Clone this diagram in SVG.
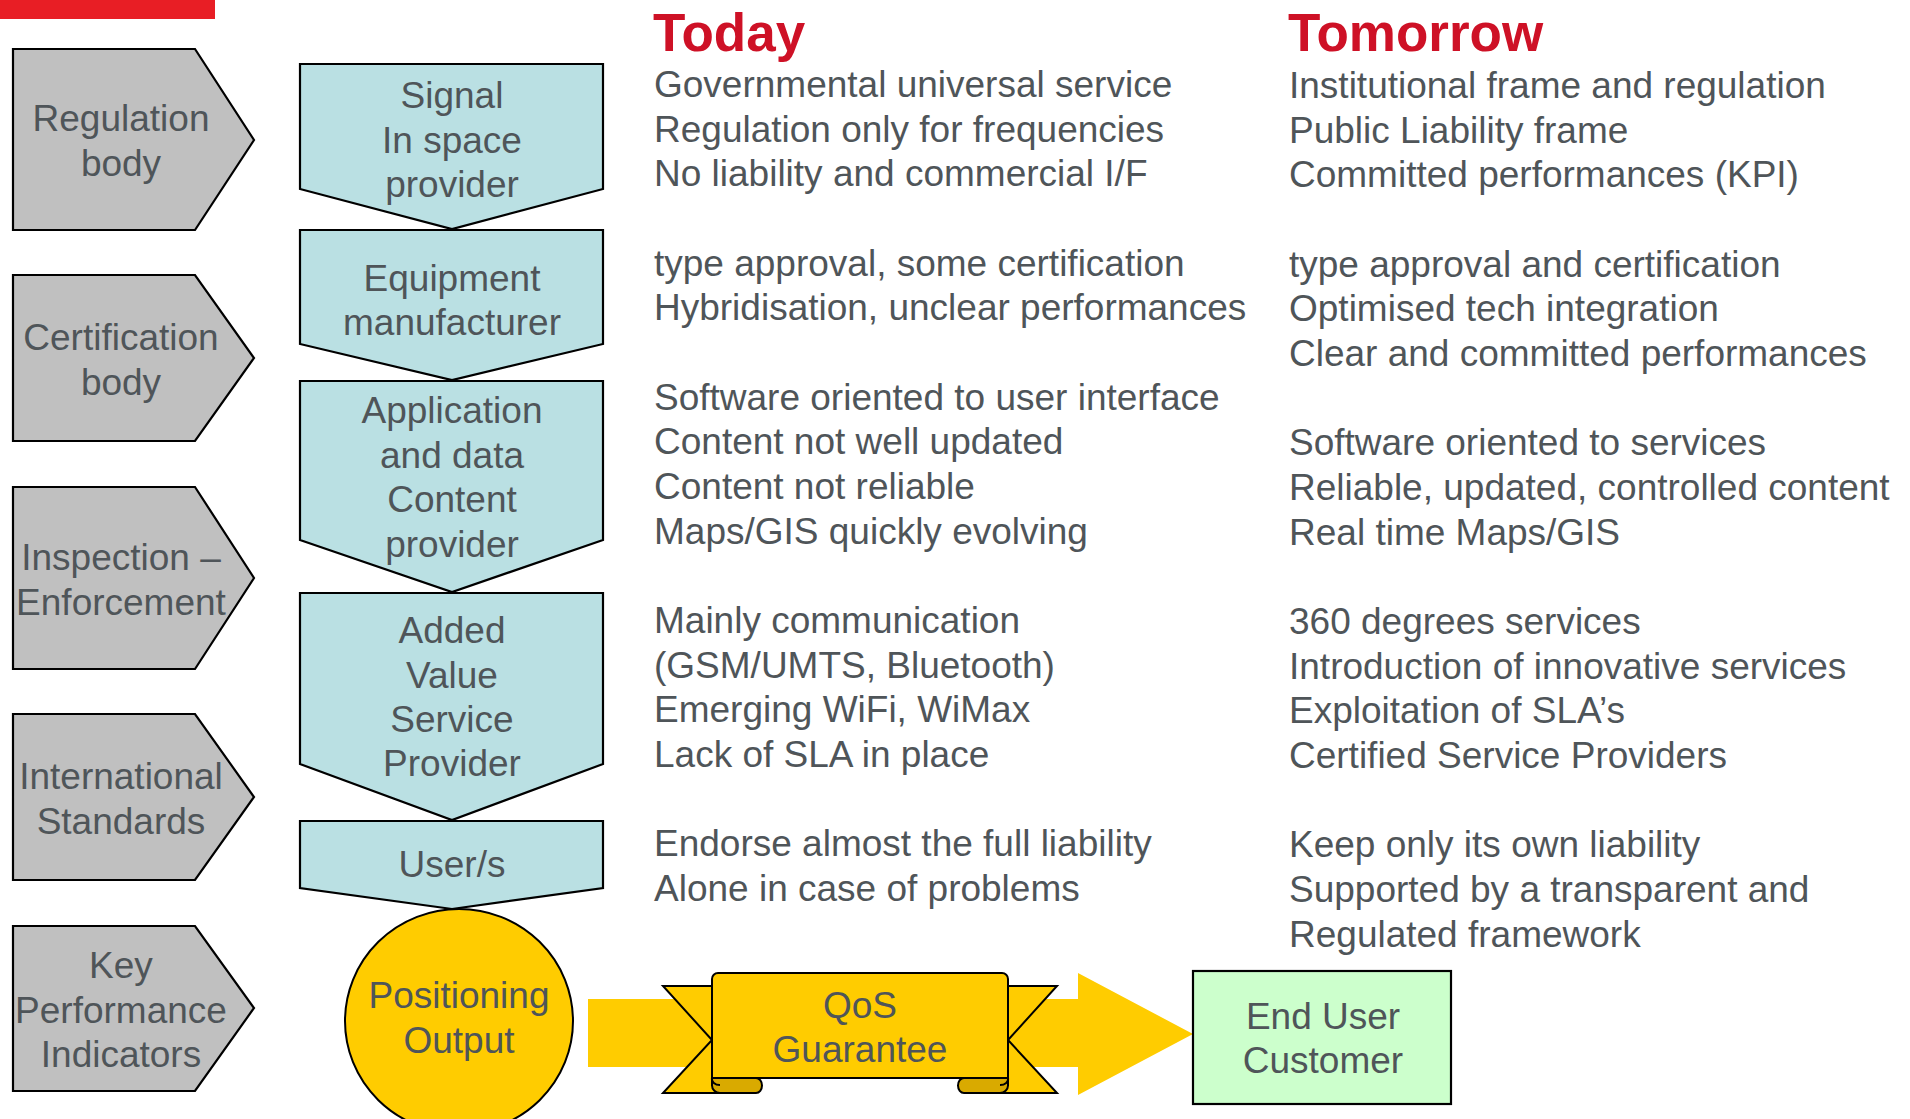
<svg xmlns="http://www.w3.org/2000/svg" width="1910" height="1119" viewBox="0 0 1910 1119">
<style>
text{font-family:"Liberation Sans",Arial,Helvetica,sans-serif;font-size:37px;fill:#4F5559}
.c{text-anchor:middle}
.h{font-weight:bold;font-size:53px;fill:#CE1126}
.g{fill:#C0C0C0;stroke:#000;stroke-width:2.2;stroke-linejoin:miter}
.b{fill:#BAE0E3;stroke:#000;stroke-width:2.2;stroke-linejoin:miter}
.y{fill:#FFCC00;stroke:#000;stroke-width:2}
.yd{fill:#D9AA00;stroke:#000;stroke-width:2}
</style>
<rect x="0" y="0" width="215" height="19" fill="#E81E25"/>

<g id="regulation-body">
<polygon class="g" points="13,49 195,49 254,140 195,230 13,230"/>
<text class="c" x="121" y="131">Regulation</text>
<text class="c" x="121" y="176">body</text>
</g>
<g id="certification-body">
<polygon class="g" points="13,275 195,275 254,358 195,441 13,441"/>
<text class="c" x="121" y="350">Certification</text>
<text class="c" x="121" y="395">body</text>
</g>
<g id="inspection-enforcement">
<polygon class="g" points="13,487 195,487 254,578 195,669 13,669"/>
<text class="c" x="121" y="570">Inspection –</text>
<text class="c" x="121" y="615">Enforcement</text>
</g>
<g id="international-standards">
<polygon class="g" points="13,714 195,714 254,797 195,880 13,880"/>
<text class="c" x="121" y="789">International</text>
<text class="c" x="121" y="834">Standards</text>
</g>
<g id="kpi">
<polygon class="g" points="13,926 195,926 254,1008 195,1091 13,1091"/>
<text class="c" x="121" y="978">Key</text>
<text class="c" x="121" y="1023">Performance</text>
<text class="c" x="121" y="1067">Indicators</text>
</g>

<g id="signal-provider">
<polygon class="b" points="300,64 603,64 603,189 452,229 300,189"/>
<text class="c" x="452" y="108">Signal</text>
<text class="c" x="452" y="153">In space</text>
<text class="c" x="452" y="197">provider</text>
</g>
<g id="equipment-manufacturer">
<polygon class="b" points="300,230 603,230 603,344 452,380 300,344"/>
<text class="c" x="452" y="291">Equipment</text>
<text class="c" x="452" y="335">manufacturer</text>
</g>
<g id="content-provider">
<polygon class="b" points="300,381 603,381 603,540 452,592 300,540"/>
<text class="c" x="452" y="423">Application</text>
<text class="c" x="452" y="468">and data</text>
<text class="c" x="452" y="512">Content</text>
<text class="c" x="452" y="557">provider</text>
</g>
<g id="vas-provider">
<polygon class="b" points="300,593 603,593 603,764 452,820 300,764"/>
<text class="c" x="452" y="643">Added</text>
<text class="c" x="452" y="688">Value</text>
<text class="c" x="452" y="732">Service</text>
<text class="c" x="452" y="776">Provider</text>
</g>
<g id="users">
<polygon class="b" points="300,821 603,821 603,888 452,909 300,888"/>
<text class="c" x="452" y="877">User/s</text>
</g>

<g id="connectors">
<polygon fill="#FFCC00" points="588,999 1078,999 1078,973 1193,1034 1078,1095 1078,1067 588,1067"/>
</g>

<g id="positioning-output">
<ellipse class="y" cx="459" cy="1021" rx="114" ry="112"/>
<text class="c" x="459" y="1008">Positioning</text>
<text class="c" x="459" y="1053">Output</text>
</g>

<g id="qos-guarantee">
<path class="y" d="M663,986 H740 V1093 H663 L712,1040 Z"/>
<path class="y" d="M1057,986 H980 V1093 H1057 L1008,1040 Z"/>
<path class="yd" d="M712,1078 H756 A6,7.5 0 0 1 756,1093 H720 A8,7.5 0 0 1 712,1085.5 Z"/>
<path class="yd" d="M1008,1078 H964 A6,7.5 0 0 0 964,1093 H1000 A8,7.5 0 0 0 1008,1085.5 Z"/>
<path class="y" d="M718,973 H1002 A6,6 0 0 1 1008,979 V1078 H712 V979 A6,6 0 0 1 718,973 Z"/>
<path fill="none" stroke="#000" stroke-width="2" d="M712,1078 A8,6 0 0 0 720,1085 M1008,1078 A8,6 0 0 1 1000,1085"/>
<text class="c" x="860" y="1018">QoS</text>
<text class="c" x="860" y="1062">Guarantee</text>
</g>

<g id="end-user">
<rect x="1193" y="971" width="258" height="133" fill="#CCFFCC" stroke="#000" stroke-width="2.2"/>
<text class="c" x="1323" y="1029">End User</text>
<text class="c" x="1323" y="1073">Customer</text>
</g>

<g id="today">
<text class="h" x="653" y="51">Today</text>
<text x="654" y="97">Governmental universal service</text>
<text x="654" y="142">Regulation only for frequencies</text>
<text x="654" y="186">No liability and commercial I/F</text>
<text x="654" y="276">type approval, some certification</text>
<text x="654" y="320">Hybridisation, unclear performances</text>
<text x="654" y="410">Software oriented to user interface</text>
<text x="654" y="454">Content not well updated</text>
<text x="654" y="499">Content not reliable</text>
<text x="654" y="544">Maps/GIS quickly evolving</text>
<text x="654" y="633">Mainly communication</text>
<text x="654" y="678">(GSM/UMTS, Bluetooth)</text>
<text x="654" y="722">Emerging WiFi, WiMax</text>
<text x="654" y="767">Lack of SLA in place</text>
<text x="654" y="856">Endorse almost the full liability</text>
<text x="654" y="901">Alone in case of problems</text>
</g>

<g id="tomorrow">
<text class="h" x="1288" y="51">Tomorrow</text>
<text x="1289" y="98">Institutional frame and regulation</text>
<text x="1289" y="143">Public Liability frame</text>
<text x="1289" y="187">Committed performances (KPI)</text>
<text x="1289" y="277">type approval and certification</text>
<text x="1289" y="321">Optimised tech integration</text>
<text x="1289" y="366">Clear and committed performances</text>
<text x="1289" y="455">Software oriented to services</text>
<text x="1289" y="500">Reliable, updated, controlled content</text>
<text x="1289" y="545">Real time Maps/GIS</text>
<text x="1289" y="634">360 degrees services</text>
<text x="1289" y="679">Introduction of innovative services</text>
<text x="1289" y="723">Exploitation of SLA’s</text>
<text x="1289" y="768">Certified Service Providers</text>
<text x="1289" y="857">Keep only its own liability</text>
<text x="1289" y="902">Supported by a transparent and</text>
<text x="1289" y="947">Regulated framework</text>
</g>
</svg>
